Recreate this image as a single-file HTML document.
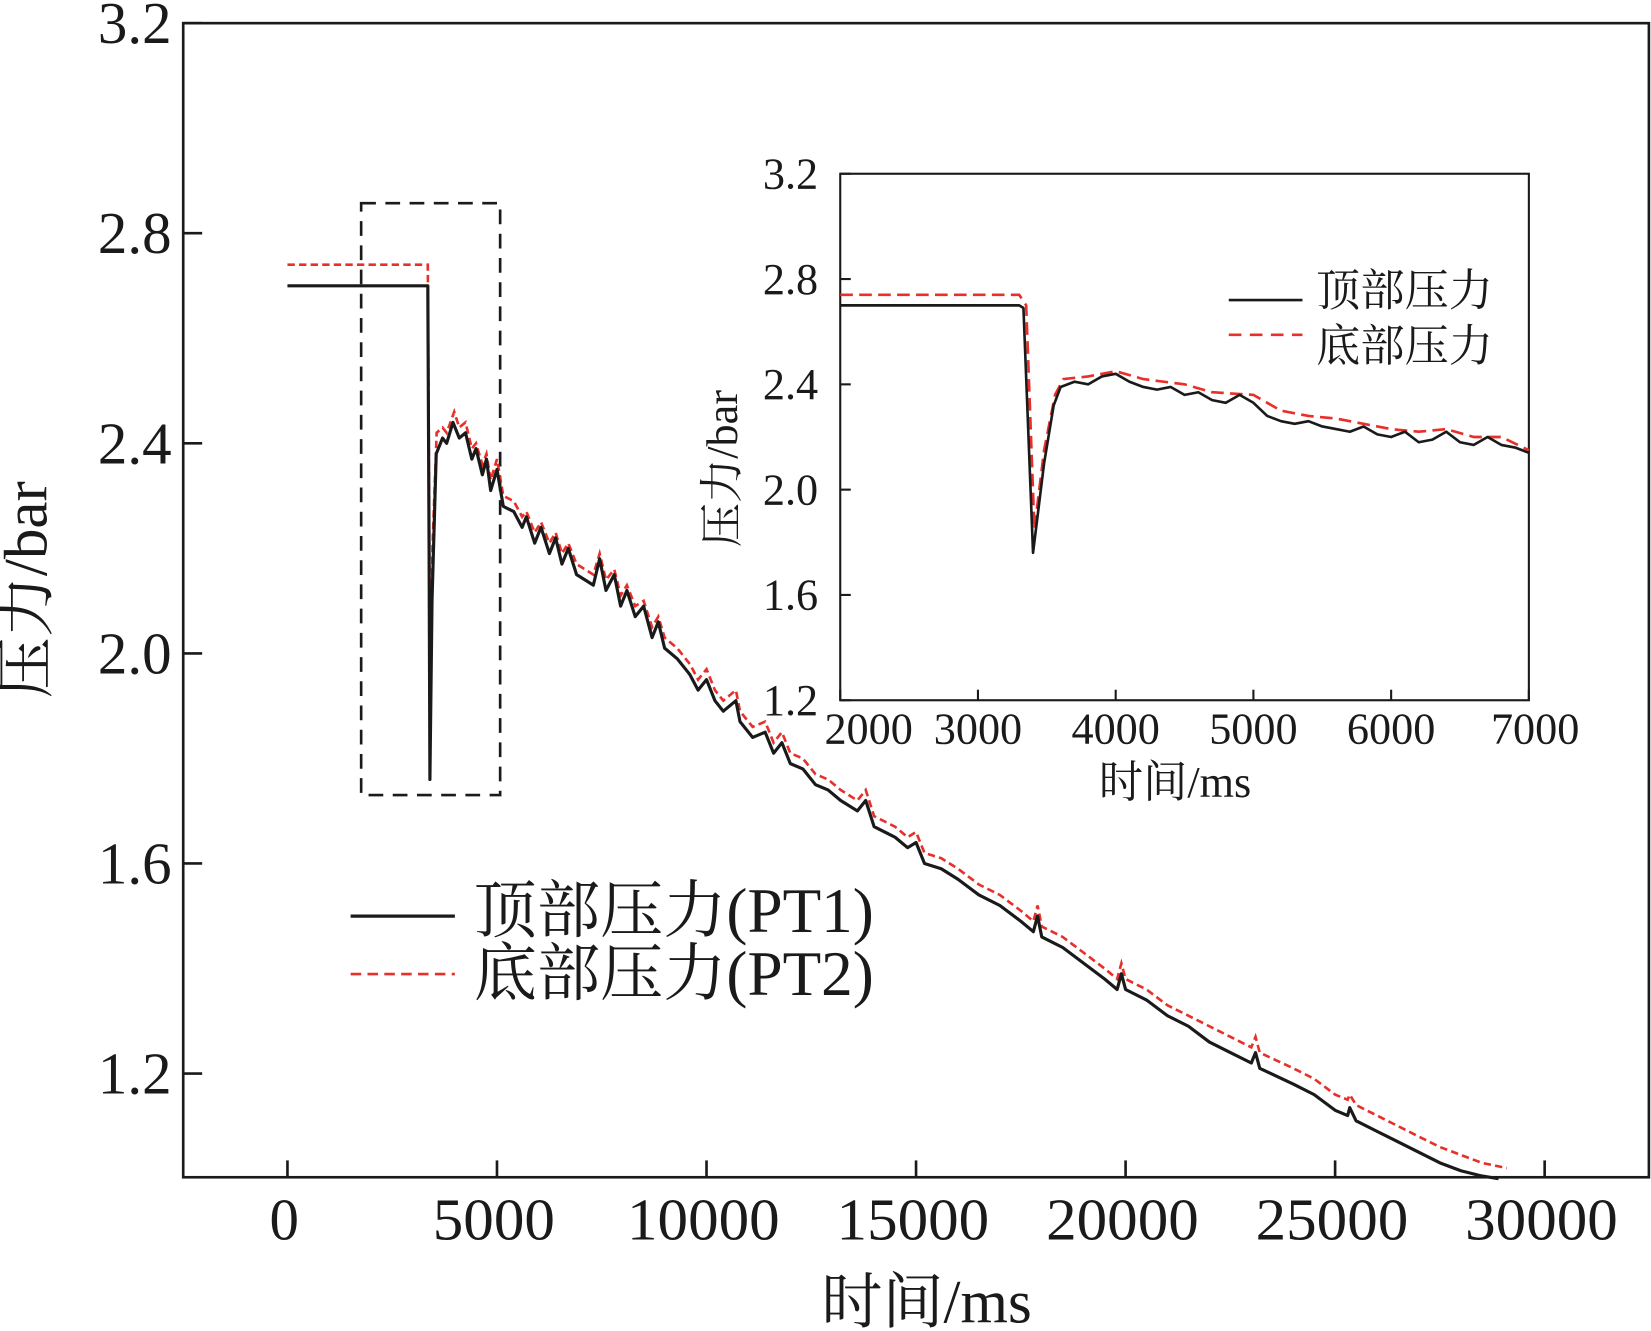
<!DOCTYPE html>
<html><head><meta charset="utf-8"><style>
html,body{margin:0;padding:0;background:#fff;}
svg{display:block;}
text{font-family:"Liberation Serif","Noto Serif CJK SC",serif;fill:#1a1a1a;}
</style></head><body>
<svg id="chart" width="1651" height="1331" viewBox="0 0 1568 1264" preserveAspectRatio="none" xmlns="http://www.w3.org/2000/svg">
<g id="g"></g>
</svg>
<script>
// ----- main chart data -----
const mainXTicks = [0,5000,10000,15000,20000,25000,30000];
const mainYTicks = [1.2,1.6,2.0,2.4,2.8,3.2];
const pt1Time = [0,3350,3380,3400,3450,3550,3700,3800,3950,4100,4250,4400,4500,4650,4750,4850,5000,5150,5400,5600,5700,5900,6050,6250,6400,6550,6700,6900,7100,7300,7450,7600,7800,7950,8100,8300,8500,8700,8850,9000,9300,9600,9800,10000,10200,10400,10700,10800,11100,11400,11600,11800,12000,12300,12600,12900,13200,13600,13800,14000,14500,14800,15000,15200,15600,16000,16500,17000,17500,17800,17900,18000,18500,19000,19500,19800,19900,20000,20500,21000,21500,22000,22500,23000,23100,23200,24000,24500,25000,25300,25350,25500,26000,26500,27000,27500,28000,28500,28900];
const pt1Value = [2.70,2.70,2.2,1.76,2.1,2.38,2.41,2.40,2.44,2.41,2.42,2.37,2.39,2.34,2.37,2.31,2.35,2.28,2.27,2.24,2.26,2.21,2.24,2.19,2.22,2.17,2.20,2.15,2.14,2.13,2.18,2.12,2.15,2.09,2.12,2.07,2.09,2.03,2.06,2.01,1.99,1.96,1.93,1.95,1.91,1.89,1.91,1.87,1.84,1.85,1.81,1.83,1.79,1.78,1.75,1.74,1.72,1.70,1.72,1.67,1.65,1.63,1.64,1.60,1.59,1.57,1.54,1.52,1.49,1.47,1.50,1.46,1.44,1.41,1.38,1.36,1.39,1.36,1.34,1.31,1.29,1.26,1.24,1.22,1.24,1.21,1.18,1.16,1.13,1.12,1.135,1.11,1.09,1.07,1.05,1.03,1.015,1.005,1.00];
const pt2Time = [0,3350,3380,3410,3460,3560,3700,3800,3980,4100,4250,4400,4500,4650,4750,4850,5000,5150,5400,5600,5700,5900,6050,6250,6400,6550,6700,6900,7100,7300,7450,7600,7800,7950,8100,8300,8500,8700,8850,9000,9300,9600,9800,10000,10200,10400,10700,10800,11100,11400,11600,11800,12000,12300,12600,12900,13200,13600,13800,14000,14500,14800,15000,15200,15600,16000,16500,17000,17500,17800,17900,18000,18500,19000,19500,19800,19900,20000,20500,21000,21500,22000,22500,23000,23100,23200,24000,24500,25000,25300,25350,25500,26000,26500,27000,27500,28000,28500,29100];
const pt2Value = [2.74,2.74,2.3,1.85,2.2,2.42,2.43,2.42,2.46,2.43,2.44,2.39,2.40,2.36,2.38,2.33,2.37,2.30,2.29,2.26,2.27,2.23,2.25,2.21,2.23,2.19,2.21,2.17,2.16,2.15,2.19,2.14,2.16,2.11,2.13,2.09,2.10,2.05,2.07,2.03,2.01,1.98,1.95,1.97,1.93,1.91,1.93,1.89,1.86,1.87,1.83,1.85,1.81,1.80,1.77,1.76,1.74,1.72,1.74,1.69,1.67,1.65,1.66,1.62,1.61,1.59,1.56,1.54,1.51,1.49,1.52,1.48,1.46,1.43,1.40,1.38,1.41,1.38,1.36,1.33,1.31,1.29,1.27,1.25,1.27,1.24,1.21,1.19,1.16,1.15,1.16,1.14,1.12,1.10,1.08,1.06,1.045,1.03,1.02];
// ----- inset data -----
const insetXTicks = [2000,3000,4000,5000,6000,7000];
const insetYTicks = [1.2,1.6,2.0,2.4,2.8,3.2];
const inPt1Time = [2000,3300,3330,3400,3480,3550,3600,3700,3800,3900,4000,4100,4200,4300,4400,4500,4600,4700,4800,4900,5000,5100,5200,5300,5400,5500,5600,5700,5800,5900,6000,6100,6200,6300,6400,6500,6600,6700,6800,6900,7000];
const inPt1Value = [2.70,2.70,2.69,1.76,2.10,2.32,2.39,2.41,2.40,2.43,2.44,2.41,2.39,2.38,2.39,2.36,2.37,2.34,2.33,2.36,2.33,2.28,2.26,2.25,2.26,2.24,2.23,2.22,2.24,2.21,2.20,2.22,2.18,2.19,2.22,2.18,2.17,2.20,2.17,2.16,2.14];
const inPt2Time = [2000,3300,3350,3410,3480,3560,3620,3800,4000,4200,4500,4700,5000,5200,5400,5600,5800,6000,6200,6400,6600,6800,7000];
const inPt2Value = [2.74,2.74,2.70,1.85,2.15,2.36,2.42,2.43,2.45,2.42,2.40,2.37,2.36,2.30,2.28,2.27,2.25,2.23,2.22,2.23,2.20,2.20,2.15];

const NS="http://www.w3.org/2000/svg";
const g=document.getElementById('g');
function mk(tag,attrs,parent){const e=document.createElementNS(NS,tag);for(const k in attrs)e.setAttribute(k,attrs[k]);(parent||g).appendChild(e);return e;}

const M={l:174,r:1566,t:22,b:1118};
const mx=v=>273+(v/5000)*199;
const my=v=>22+(3.2-v)*498.75;
const I={l:798,r:1452,t:165,b:665};
const ix=v=>798+(v-2000)/5000*654;
const iy=v=>165+(3.2-v)*250;

function pathD(ts,vs,fx,fy){return ts.map((t,i)=>(i?'L':'M')+fx(t).toFixed(1)+','+fy(vs[i]).toFixed(1)).join('');}

let e=mk('rect',{x:M.l,y:M.t,width:M.r-M.l,height:M.b-M.t,fill:'none',stroke:'#1a1a1a','stroke-width':2.5});


mainXTicks.forEach(v=>{
  let t=mk('line',{x1:mx(v),x2:mx(v),y1:M.b,y2:M.b-16,stroke:'#1a1a1a','stroke-width':2.5});
  
  
  let l=mk('text',{x:mx(v)-3,y:1177,'text-anchor':'middle','font-size':56,textLength:v===0?'':String(v).length*29,lengthAdjust:'spacingAndGlyphs'});
  if(v===0)l.removeAttribute('textLength');
  l.textContent=v;
  
  
});
mainYTicks.forEach(v=>{
  let t=mk('line',{x1:M.l,x2:M.l+18,y1:my(v),y2:my(v),stroke:'#1a1a1a','stroke-width':2.5});
  
  
  let l=mk('text',{x:163,y:my(v)+19,'text-anchor':'end','font-size':56});
  l.textContent=v.toFixed(1);
  
  
});
e=mk('text',{x:880,y:1256,'text-anchor':'middle','font-size':58});
e.textContent='时间/ms';


e=mk('text',{x:0,y:0,'text-anchor':'middle','font-size':58,transform:'translate(44,560) rotate(-90)','font-family':'"Liberation Sans","Noto Serif CJK SC",sans-serif'});
e.textContent='压力/bar';



e=mk('rect',{x:343,y:193,width:132,height:562,fill:'none',stroke:'#1a1a1a','stroke-width':2.5,'stroke-dasharray':'14,9'});



e=mk('path',{d:pathD(pt2Time,pt2Value,mx,my),fill:'none',stroke:'#e8302a','stroke-width':2.5,'stroke-dasharray':'7,4'});


e=mk('path',{d:pathD(pt1Time,pt1Value,mx,my),fill:'none',stroke:'#1a1a1a','stroke-width':3,'stroke-linejoin':'round'});



e=mk('line',{x1:333,x2:432,y1:870,y2:870,stroke:'#1a1a1a','stroke-width':3});


e=mk('line',{x1:333,x2:432,y1:925,y2:925,stroke:'#e8302a','stroke-width':2.5,'stroke-dasharray':'10,6'});


e=mk('text',{x:450,y:885,'font-size':60});
e.textContent='顶部压力(PT1)';


e=mk('text',{x:450,y:945,'font-size':60});
e.textContent='底部压力(PT2)';



e=mk('rect',{x:I.l,y:I.t,width:I.r-I.l,height:I.b-I.t,fill:'#fff',stroke:'#1a1a1a','stroke-width':2});


insetXTicks.forEach(v=>{
  let t=mk('line',{x1:ix(v),x2:ix(v),y1:I.b,y2:I.b-10,stroke:'#1a1a1a','stroke-width':2});
  
  
  let l=mk('text',{x:ix(v)+(v===7000?6:v===2000?27:0),y:706,'text-anchor':'middle','font-size':42});
  l.textContent=v;
  
  
});
insetYTicks.forEach(v=>{
  let t=mk('line',{x1:I.l,x2:I.l+10,y1:iy(v),y2:iy(v),stroke:'#1a1a1a','stroke-width':2});
  
  
  let l=mk('text',{x:777,y:iy(v)+14,'text-anchor':'end','font-size':42});
  l.textContent=v.toFixed(1);
  
  
});
e=mk('text',{x:1116,y:757,'text-anchor':'middle','font-size':42});
e.textContent='时间/ms';


e=mk('text',{x:0,y:0,'text-anchor':'middle','font-size':42,transform:'translate(700,445) rotate(-90)'});
e.textContent='压力/bar';


e=mk('path',{d:pathD(inPt2Time,inPt2Value,ix,iy),fill:'none',stroke:'#e8302a','stroke-width':2.5,'stroke-dasharray':'12,6'});


e=mk('path',{d:pathD(inPt1Time,inPt1Value,ix,iy),fill:'none',stroke:'#1a1a1a','stroke-width':2.5,'stroke-linejoin':'round'});


e=mk('line',{x1:1167,x2:1237,y1:285,y2:285,stroke:'#1a1a1a','stroke-width':2.5});


e=mk('line',{x1:1167,x2:1237,y1:318,y2:318,stroke:'#e8302a','stroke-width':2.5,'stroke-dasharray':'12,8'});


e=mk('text',{x:1250,y:290,'font-size':42});
e.textContent='顶部压力';


e=mk('text',{x:1250,y:343,'font-size':42});
e.textContent='底部压力';


</script>
</body></html>
